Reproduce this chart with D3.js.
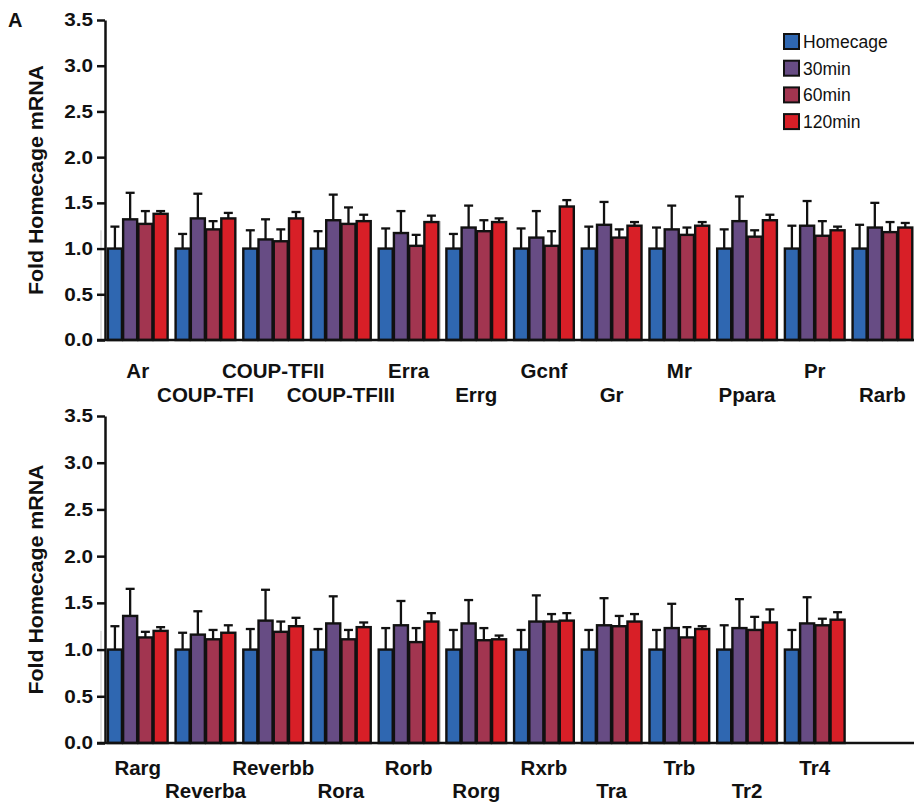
<!DOCTYPE html>
<html>
<head>
<meta charset="utf-8">
<script src="https://cdn.jsdelivr.net/npm/d3@7"></script>
<style>
  html, body { margin: 0; padding: 0; background: #fff; }
  svg { display: block; font-family: "Liberation Sans", Arial, Helvetica, sans-serif; }
</style>
</head>
<body>
<svg id="chart" width="914" height="808"></svg>
<script>
// ---------- DATA ----------
const seriesNames = ["Homecage", "30min", "60min", "120min"];
const seriesColors = ["#2F67B1", "#674C84", "#A23550", "#D81F27"];
const yTicks = [0, 0.5, 1.0, 1.5, 2.0, 2.5, 3.0, 3.5];

// Panel 1
const genesTop = ["Ar", "COUP-TFI", "COUP-TFII", "COUP-TFIII", "Erra", "Errg", "Gcnf", "Gr", "Mr", "Ppara", "Pr", "Rarb"];
const topHomecage    = [1.00, 1.00, 1.00, 1.00, 1.00, 1.00, 1.00, 1.00, 1.00, 1.00, 1.00, 1.00];
const topHomecageErr = [0.24, 0.16, 0.20, 0.19, 0.22, 0.16, 0.22, 0.24, 0.23, 0.21, 0.25, 0.26];
const top30          = [1.32, 1.33, 1.10, 1.31, 1.17, 1.23, 1.12, 1.26, 1.21, 1.30, 1.25, 1.23];
const top30Err       = [0.29, 0.27, 0.22, 0.28, 0.24, 0.24, 0.29, 0.25, 0.26, 0.27, 0.27, 0.27];
const top60          = [1.27, 1.21, 1.08, 1.27, 1.03, 1.19, 1.03, 1.12, 1.15, 1.13, 1.14, 1.18];
const top60Err       = [0.14, 0.09, 0.13, 0.18, 0.12, 0.12, 0.16, 0.09, 0.08, 0.07, 0.16, 0.11];
const top120         = [1.38, 1.33, 1.33, 1.30, 1.29, 1.29, 1.46, 1.25, 1.25, 1.31, 1.20, 1.23];
const top120Err      = [0.03, 0.06, 0.07, 0.07, 0.07, 0.04, 0.07, 0.04, 0.04, 0.06, 0.04, 0.05];

// Panel 2
const genesBottom = ["Rarg", "Reverba", "Reverbb", "Rora", "Rorb", "Rorg", "Rxrb", "Tra", "Trb", "Tr2", "Tr4"];
const botHomecage    = [1.00, 1.00, 1.00, 1.00, 1.00, 1.00, 1.00, 1.00, 1.00, 1.00, 1.00];
const botHomecageErr = [0.25, 0.18, 0.22, 0.22, 0.23, 0.21, 0.21, 0.21, 0.21, 0.26, 0.21];
const bot30          = [1.36, 1.16, 1.31, 1.28, 1.26, 1.28, 1.30, 1.26, 1.23, 1.23, 1.28];
const bot30Err       = [0.29, 0.25, 0.33, 0.29, 0.26, 0.25, 0.28, 0.29, 0.26, 0.31, 0.28];
const bot60          = [1.13, 1.11, 1.19, 1.11, 1.08, 1.10, 1.30, 1.25, 1.13, 1.21, 1.26];
const bot60Err       = [0.06, 0.10, 0.11, 0.10, 0.15, 0.13, 0.08, 0.11, 0.11, 0.14, 0.07];
const bot120         = [1.20, 1.18, 1.25, 1.24, 1.30, 1.11, 1.31, 1.30, 1.22, 1.29, 1.32];
const bot120Err      = [0.04, 0.08, 0.09, 0.05, 0.09, 0.04, 0.08, 0.08, 0.03, 0.14, 0.08];

const SLOTS = 12;

// ---------- DRAW ----------
const svg = d3.select("#chart");
const axisX = 105;

function drawPanel(cfg) {
  const { genes, means, errs, yTop, yBottom, row1, row2 } = cfg;
  const g = svg.append("g");

  const y = d3.scaleLinear().domain([0, 3.5]).range([yBottom, yTop]);
  const slotIds = d3.range(SLOTS);
  const x = d3.scaleBand().domain(slotIds).range([107.3, 912.9]).paddingInner(0.1).paddingOuter(0).align(0);
  const xs = d3.scaleBand().domain(seriesNames).range([0, x.bandwidth()]).padding(0);

  // faint scan artefact lines
  g.append("line").attr("x1", 101).attr("x2", 101).attr("y1", y(1.2)).attr("y2", yBottom)
    .attr("stroke", "#c8c8c8").attr("stroke-width", 1);
  g.append("line").attr("x1", 440.5).attr("x2", 440.5).attr("y1", y(1.3)).attr("y2", yBottom)
    .attr("stroke", "#d0d0d0").attr("stroke-width", 1);

  // bars
  genes.forEach((gene, gi) => {
    const grp = g.append("g").attr("transform", `translate(${x(gi)},0)`);
    seriesNames.forEach((s, si) => {
      const v = means[si][gi], e = errs[si][gi];
      const bx = xs(s), bw = xs.bandwidth();
      const cx = bx + bw / 2;
      // error bar (upper only)
      grp.append("line").attr("x1", cx).attr("x2", cx).attr("y1", y(v)).attr("y2", y(v + e))
        .attr("stroke", "#111").attr("stroke-width", 2.3);
      grp.append("line").attr("x1", cx - 4.5).attr("x2", cx + 4.5).attr("y1", y(v + e)).attr("y2", y(v + e))
        .attr("stroke", "#111").attr("stroke-width", 2.3);
      grp.append("rect")
        .attr("x", bx + 0.6).attr("y", y(v)).attr("width", bw - 1.2).attr("height", y(0) - y(v))
        .attr("fill", seriesColors[si]).attr("stroke", "#111").attr("stroke-width", 2.4);
    });
    // labels
    grp.append("text")
      .attr("x", x.bandwidth() / 2).attr("y", gi % 2 === 0 ? row1 : row2)
      .attr("text-anchor", "middle").attr("font-weight", "bold").attr("font-size", 20.5)
      .attr("fill", "#111").text(gene);
  });

  // y axis
  const ya = g.append("g").attr("transform", `translate(${axisX},0)`)
    .call(d3.axisLeft(y).tickValues(yTicks).tickFormat(d3.format(".1f")).tickSize(8).tickSizeOuter(0).tickPadding(4));
  ya.select(".domain").attr("stroke", "#111").attr("stroke-width", 2.5);
  ya.selectAll(".tick line").attr("stroke", "#111").attr("stroke-width", 2.5);
  ya.selectAll(".tick text").attr("font-size", 18.5).attr("font-weight", "bold").attr("fill", "#111")
    .attr("font-family", "'Liberation Sans', Arial, sans-serif")
    .attr("transform", "scale(1.12,1)").attr("dx", 0);
  ya.selectAll(".tick text").each(function () {
    const t = d3.select(this);
    const xv = +t.attr("x");
    t.attr("x", xv / 1.12);
  });

  // x axis line
  g.append("line").attr("x1", axisX - 8).attr("x2", 914).attr("y1", yBottom).attr("y2", yBottom)
    .attr("stroke", "#111").attr("stroke-width", 2.5);

  // y title
  g.append("text")
    .attr("transform", `translate(43,${(yTop + yBottom) / 2}) rotate(-90)`)
    .attr("text-anchor", "middle").attr("font-weight", "bold").attr("font-size", 20.5)
    .attr("textLength", 230).attr("lengthAdjust", "spacingAndGlyphs")
    .attr("fill", "#111").text("Fold Homecage mRNA");

  return { x, y };
}

drawPanel({
  genes: genesTop,
  means: [topHomecage, top30, top60, top120],
  errs: [topHomecageErr, top30Err, top60Err, top120Err],
  yTop: 20, yBottom: 340, row1: 378, row2: 402
});

drawPanel({
  genes: genesBottom,
  means: [botHomecage, bot30, bot60, bot120],
  errs: [botHomecageErr, bot30Err, bot60Err, bot120Err],
  yTop: 416, yBottom: 743, row1: 775, row2: 798
});

// panel letter
svg.append("text").attr("x", 8).attr("y", 27).attr("font-weight", "bold").attr("font-size", 20)
  .attr("fill", "#111").text("A");

// legend
const legend = svg.append("g").attr("transform", "translate(783,34)");
seriesNames.forEach((s, i) => {
  const row = legend.append("g").attr("transform", `translate(0,${i * 26.7})`);
  row.append("rect").attr("x", 1).attr("y", 0).attr("width", 15).attr("height", 15)
    .attr("fill", seriesColors[i]).attr("stroke", "#111").attr("stroke-width", 2);
  row.append("text").attr("x", 20).attr("y", 14).attr("font-size", 17.5).attr("fill", "#111").text(s);
});
</script>
</body>
</html>
